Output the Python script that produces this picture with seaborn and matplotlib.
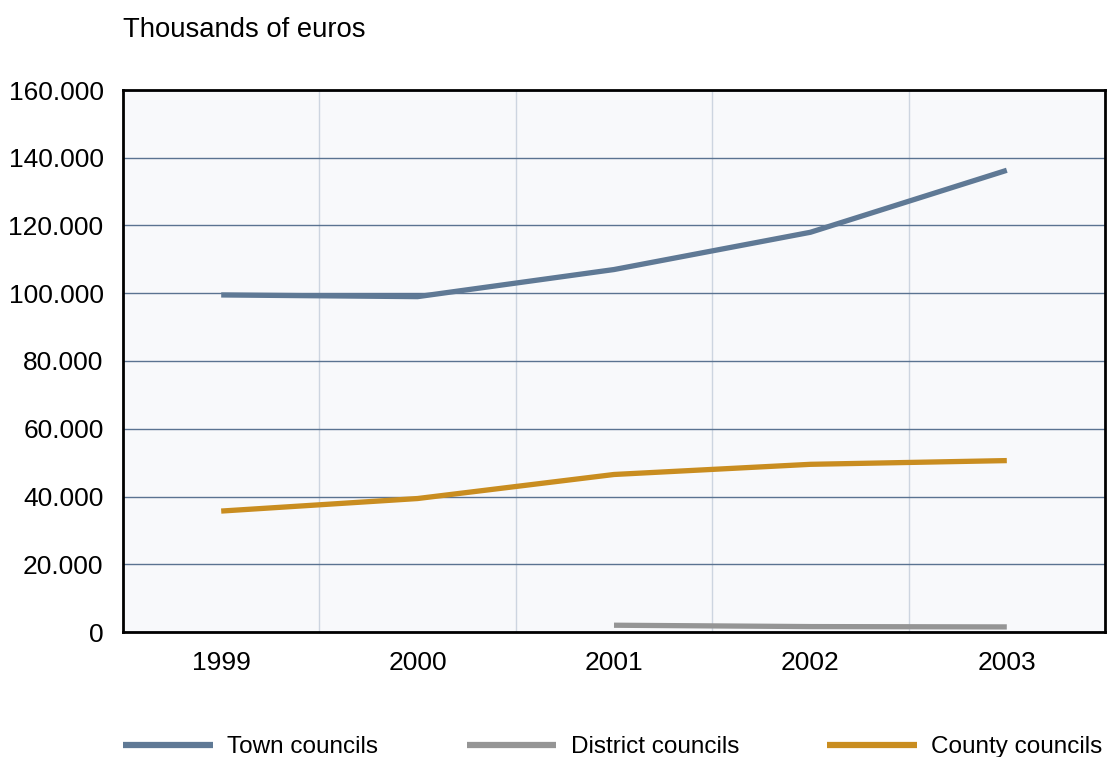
import pandas as pd
import matplotlib.pyplot as plt
import matplotlib.ticker as mticker
import seaborn as sns

years = ['1999', '2000', '2001', '2002', '2003']
town_councils = [99500, 99000, 107000, 118000, 136300]
district_years = ['2001', '2002', '2003']
district_councils = [2000, 1600, 1500]
county_councils = [35700, 39400, 46500, 49500, 50600]

series_names = ['Town councils', 'District councils', 'County councils']
colors = {'Town councils': '#5f7995', 'District councils': '#959595', 'County councils': '#c98d20'}

df = pd.concat([
    pd.DataFrame({'Year': years, 'Value': town_councils, 'Series': 'Town councils'}),
    pd.DataFrame({'Year': district_years, 'Value': district_councils, 'Series': 'District councils'}),
    pd.DataFrame({'Year': years, 'Value': county_councils, 'Series': 'County councils'}),
])

sns.set_theme(style='white')
plt.rcParams['font.family'] = ['Liberation Sans', 'DejaVu Sans']
plt.rcParams['text.color'] = 'black'

fig = plt.figure(figsize=(11.1, 7.57), dpi=100)
ax = fig.add_axes([123 / 1110, 1 - 632 / 757, (1105 - 123) / 1110, (632 - 90) / 757])
ax.set_facecolor('#f8f9fb')

sns.lineplot(data=df, x='Year', y='Value', hue='Series', hue_order=series_names,
             palette=colors, linewidth=3.8, ax=ax, legend=False, sort=False,
             solid_capstyle='butt')

ax.set_xlim(-0.5, 4.5)
ax.set_ylim(0, 160000)
ax.yaxis.set_major_locator(mticker.MultipleLocator(20000))
ax.yaxis.set_major_formatter(mticker.FuncFormatter(lambda v, p: f'{int(v):,}'.replace(',', '.')))
ax.xaxis.set_minor_locator(mticker.FixedLocator([0.5, 1.5, 2.5, 3.5]))

ax.grid(False)
ax.grid(True, axis='y', which='major', color='#5a7391', linewidth=1.0)
ax.grid(True, axis='x', which='minor', color='#cdd5e0', linewidth=1.0)
ax.set_axisbelow(True)

for s in ax.spines.values():
    s.set_color('black')
    s.set_linewidth(2)

ax.tick_params(axis='both', which='both', length=0, labelsize=19, colors='black')
ax.tick_params(axis='y', pad=14)
ax.tick_params(axis='x', pad=14)
ax.set_xlabel('')
ax.set_ylabel('')

fig.text(123 / 1110, 1 - 30 / 757, 'Thousands of euros', fontsize=19.8, va='center', ha='left',
         color='black')

handles = [plt.Line2D([], [], color=colors[n], linewidth=4.5, solid_capstyle='butt')
           for n in series_names]
leg = fig.legend(handles, series_names, loc='center left', bbox_to_anchor=(123 / 1110, 10 / 757),
                 ncol=3, frameon=False, fontsize=17.5, handlelength=3.7, handletextpad=0.58,
                 columnspacing=3.64, borderpad=0, borderaxespad=0)
for t in leg.get_texts():
    t.set_color('black')

fig.savefig('out.png', dpi=100)
